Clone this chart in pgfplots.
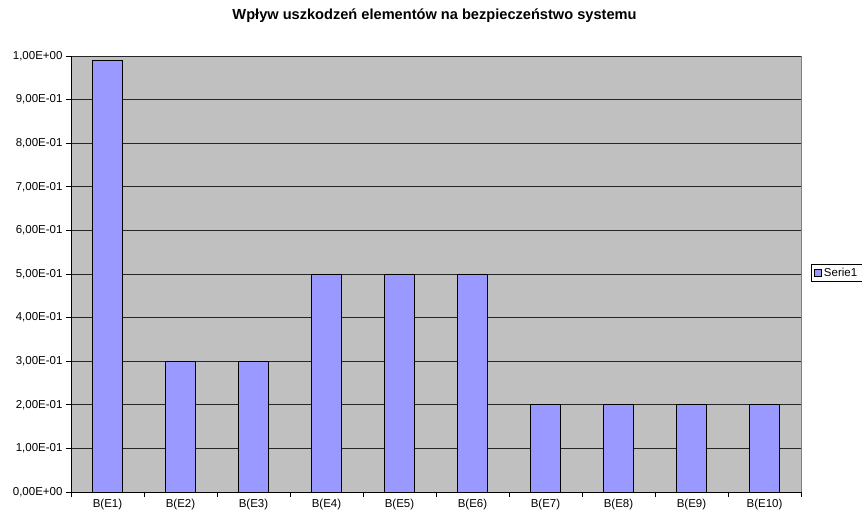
\documentclass[border=0pt]{standalone}
\usepackage{pgfplots}
\pgfplotsset{compat=1.18}
\usepackage{fontspec}
\setmainfont{Liberation Sans}
\definecolor{plotbg}{HTML}{C0C0C0}
\definecolor{barfill}{HTML}{9999FF}
\definecolor{frame}{HTML}{808080}
\begin{document}
\begin{tikzpicture}[x=1pt,y=1pt]
\useasboundingbox (0,0) rectangle (862,517);
\node[font=\fontsize{14.6}{16}\selectfont\bfseries, anchor=base] at (434.5,497) {Wpływ uszkodzeń elementów na bezpieczeństwo systemu};
\begin{axis}[
  at={(71pt,25pt)}, anchor=south west,
  scale only axis, width=730pt, height=436pt,
  xmin=-0.5, xmax=9.5, ymin=0, ymax=1,
  axis lines*=left,
  axis line style={black, line width=0.8pt},
  axis background/.style={fill=plotbg, draw=frame, line width=0.9pt},
  xtick={-0.5,0.5,...,9.5}, xticklabels={},
  extra x ticks={0,1,2,3,4,5,6,7,8,9},
  extra x tick labels={B(E1),B(E2),B(E3),B(E4),B(E5),B(E6),B(E7),B(E8),B(E9),B(E10)},
  extra x tick style={major tick length=0pt, xticklabel style={yshift=-4pt}},
  ytick={0,0.1,...,1.01},
  yticklabels={{0,00E+00},{1,00E-01},{2,00E-01},{3,00E-01},{4,00E-01},{5,00E-01},{6,00E-01},{7,00E-01},{8,00E-01},{9,00E-01},{1,00E+00}},
  tick align=outside, major tick length=5pt,
  tick style={black, line width=0.8pt},
  ymajorgrids, major grid style={black!85, line width=0.8pt},
  ticklabel style={font=\fontsize{11.5}{13}\selectfont},
  /pgf/number format/assume math mode=true,
  ybar, bar width=30pt,
  legend style={at={(1.0137,0.502)}, anchor=west, draw=black, line width=0.7pt,
    font=\fontsize{11.5}{13}\selectfont, inner xsep=3pt, inner ysep=1.5pt, row sep=0pt,
    /tikz/every even column/.append style={column sep=0pt}},
  legend image code/.code={\draw[fill=barfill, draw=black, line width=0.6pt] (0pt,-3.5pt) rectangle (7pt,3.5pt);},
]
\addplot[fill=barfill, draw=black, line width=0.8pt] coordinates {
 (0,0.99) (1,0.3) (2,0.3) (3,0.5) (4,0.5) (5,0.5) (6,0.2) (7,0.2) (8,0.2) (9,0.2)
};
\addlegendentry{Serie1}
\end{axis}
\end{tikzpicture}
\end{document}
